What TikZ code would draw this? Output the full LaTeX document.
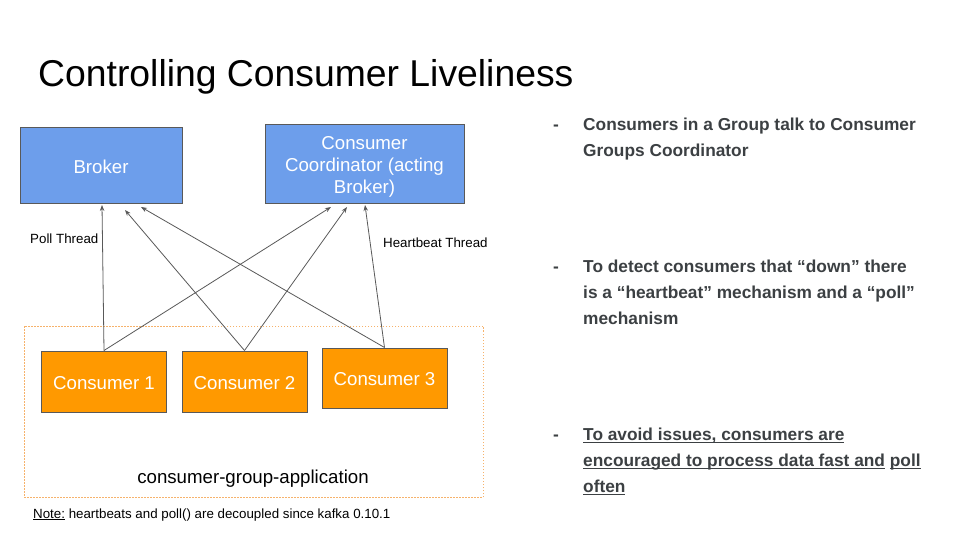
\documentclass[tikz,border=0pt]{standalone}
\usepackage{fontspec}
\setmainfont{Liberation Sans}
\usetikzlibrary{arrows.meta}
\definecolor{boxblue}{HTML}{6D9EEB}
\definecolor{boxorange}{HTML}{FF9900}
\definecolor{edgegray}{HTML}{595959}
\definecolor{groupline}{HTML}{F6B26B}
\definecolor{bullettext}{HTML}{3C4043}
% underline: depth below baseline, rule thickness, text
\newsavebox\ulsave
\newcommand\ulined[3]{\sbox\ulsave{#3}\rlap{\rule[-#1]{\wd\ulsave}{#2}}\usebox\ulsave}
% move a label down inside its box without changing the box size
\newcommand\lowered[2]{\raisebox{-#1}[\height][\depth]{#2}}

\begin{document}
\begin{tikzpicture}[x=1pt,y=-1pt,
  server/.style={draw=edgegray,line width=1pt,fill=boxblue,text=white,inner sep=0pt,
    align=center,font=\fontsize{18.67}{22}\selectfont},
  consumer/.style={draw=edgegray,line width=1pt,fill=boxorange,text=white,inner sep=0pt,
    minimum height=61pt,minimum width=125pt,font=\fontsize{18.67}{22}\selectfont},
  link/.style={draw=edgegray,line width=0.8pt,-{Stealth[length=6pt,width=4.5pt]}},
  small/.style={font=\fontsize{13.33}{16}\selectfont,inner sep=0pt},
  point/.style={font=\bfseries\fontsize{17.3}{26}\selectfont,text=bullettext,
    inner sep=0pt,anchor=base west},
]
\useasboundingbox[fill=white] (0,0) rectangle (960,540);

% heading
\node[anchor=base west,inner sep=0pt,font=\fontsize{37.33}{40}\selectfont] (title) at (38,87)
  {Controlling Consumer Liveliness};

% brokers
\node[server,minimum width=162pt,minimum height=75pt] (broker) at (101,165.5)
  {\lowered{1.5pt}{Broker}};
\node[server,minimum width=199pt,minimum height=78pt] (coord) at (364.5,164)
  {\lowered{3pt}{\begin{tabular}{@{}c@{}}Consumer\\Coordinator (acting\\Broker)\end{tabular}}};

% consumer group
\draw[groupline,line width=1pt,dash pattern=on 1.5pt off 1.5pt] (24,326) rectangle (483,497);
\node[consumer] (c1) at (104,381.5) {\lowered{2pt}{Consumer 1}};
\node[consumer] (c2) at (244.5,381.5) {\lowered{2pt}{Consumer 2}};
\node[consumer,minimum height=60pt] (c3) at (384.5,378) {\lowered{1.5pt}{Consumer 3}};
\node[font=\fontsize{18.67}{22}\selectfont,inner sep=0pt] (grouplabel) at (253,479)
  {consumer-group-application};

% arrow tips under the brokers
\coordinate (tb1) at (102,205);
\coordinate (tb2) at (125,210);
\coordinate (tb3) at (141,207);
\coordinate (tc1) at (331,207);
\coordinate (tc2) at (347,207);
\coordinate (tc3) at (365,205);

\draw[link] (c1.north) -- (tb1);
\draw[link] (c1.north) -- (tc1);
\draw[link] (c2.north) -- (tb2);
\draw[link] (c2.north) -- (tc2);
\draw[link] (c3.north) -- (tb3);
\draw[link] (c3.north) -- (tc3);

\node[small,anchor=west] (poll) at (30,239) {Poll Thread};
\node[small,anchor=west] (heart) at (383,243) {Heartbeat Thread};

\node[small,anchor=base west] (note) at (33,518)
  {\ulined{2pt}{0.9pt}{Note:} heartbeats and poll() are decoupled since kafka 0.10.1};

% bullet points
\node[point] (d1) at (553,131) {-};
\node[point] (p1a) at (583,131) {Consumers in a Group talk to Consumer};
\node[point] (p1b) at (583,157) {Groups Coordinator};

\node[point] (d2) at (553,272) {-};
\node[point] (p2a) at (583,272) {To detect consumers that “down” there};
\node[point] (p2b) at (583,298) {is a “heartbeat” mechanism and a “poll”};
\node[point] (p2c) at (583,324) {mechanism};

\node[point] (d3) at (553,440) {-};
\node[point] (p3a) at (583,440) {\ulined{3pt}{1.3pt}{To avoid issues, consumers are}};
\node[point] (p3b) at (583,466)
  {\ulined{3pt}{1.3pt}{encouraged to process data fast and} \ulined{3pt}{1.3pt}{poll}};
\node[point] (p3c) at (583,492) {\ulined{3pt}{1.3pt}{often}};
\end{tikzpicture}
\end{document}
